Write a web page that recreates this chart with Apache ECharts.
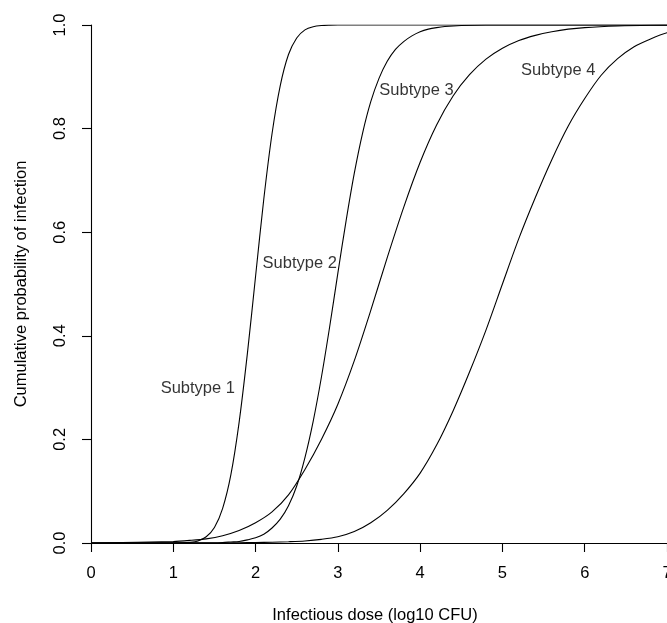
<!DOCTYPE html>
<html>
<head>
<meta charset="utf-8">
<script src="https://cdn.jsdelivr.net/npm/echarts@6/dist/echarts.min.js"></script>
<style>
  html, body { margin: 0; padding: 0; background: #fff; }
  #main { width: 667px; height: 623px; }
</style>
</head>
<body>
<div id="main"></div>
<script>
// cumulative probability curves as [log10 dose, P]
var subtype1 = [[0, 0], [1.0, 0.0001], [1.1, 0.0003], [1.2, 0.0012], [1.3, 0.004], [1.4, 0.012],
  [1.5, 0.03], [1.6, 0.067], [1.7, 0.132], [1.8, 0.233], [1.9, 0.365], [2.0, 0.515],
  [2.1, 0.664], [2.2, 0.79], [2.3, 0.883], [2.4, 0.943], [2.5, 0.975], [2.6, 0.9906],
  [2.7, 0.9968], [2.8, 0.9991], [2.9, 0.9998], [3.0, 1], [7.2, 1]];
var subtype2 = [[0, 0], [1.5, 0.0005], [1.6, 0.001], [1.7, 0.002], [1.8, 0.003], [1.9, 0.006],
  [2.0, 0.01], [2.1, 0.017], [2.2, 0.029], [2.3, 0.046], [2.4, 0.072], [2.5, 0.11],
  [2.6, 0.165], [2.7, 0.235], [2.8, 0.32], [2.9, 0.417], [3.0, 0.521], [3.1, 0.622],
  [3.2, 0.714], [3.3, 0.791], [3.4, 0.852], [3.5, 0.897], [3.6, 0.93], [3.7, 0.953],
  [3.8, 0.968], [3.9, 0.979], [4.0, 0.987], [4.1, 0.992], [4.2, 0.995], [4.3, 0.997],
  [4.5, 0.999], [4.8, 1], [7.2, 1]];
var subtype3 = [[0, 0], [1.0, 0.003], [1.2, 0.005], [1.4, 0.008], [1.6, 0.014], [1.8, 0.024],
  [2.0, 0.039], [2.2, 0.06], [2.4, 0.093], [2.6, 0.142], [2.8, 0.2], [3.0, 0.268],
  [3.2, 0.352], [3.4, 0.449], [3.6, 0.551], [3.8, 0.648], [4.0, 0.735], [4.2, 0.807],
  [4.4, 0.863], [4.6, 0.904], [4.8, 0.934], [5.0, 0.955], [5.2, 0.97], [5.4, 0.98],
  [5.6, 0.987], [5.8, 0.992], [6.0, 0.995], [6.4, 0.998], [6.8, 0.9995], [7.2, 1]];
var subtype4 = [[0, 0], [1.6, 0], [1.8, 0.0005], [2.0, 0.001], [2.2, 0.0015], [2.4, 0.0025],
  [2.6, 0.004], [2.8, 0.007], [3.0, 0.012], [3.2, 0.022], [3.4, 0.039], [3.6, 0.063],
  [3.8, 0.095], [4.0, 0.135], [4.2, 0.189], [4.4, 0.255], [4.6, 0.33], [4.8, 0.411],
  [5.0, 0.5], [5.2, 0.588], [5.4, 0.667], [5.6, 0.74], [5.8, 0.805], [6.0, 0.858],
  [6.2, 0.903], [6.4, 0.935], [6.6, 0.958], [6.8, 0.973], [7.0, 0.985], [7.2, 0.991]];

var curveNames = ['Subtype 1', 'Subtype 2', 'Subtype 3', 'Subtype 4'];
// where each curve's name is written, in data units
var labelPos = [[1.298, 0.299], [2.536, 0.539], [3.955, 0.873], [5.678, 0.913]];

var font = 'Liberation Sans, Arial, Helvetica, sans-serif';
var fs = 16.5;
var ink = '#000';

var curves = [subtype1, subtype2, subtype3, subtype4];
var series = curves.map(function (d, i) {
  return {
    name: curveNames[i],
    type: 'line',
    data: d,
    showSymbol: false,
    smooth: 0.3,
    lineStyle: { color: '#000', width: 1.1 },
    silent: true
  };
});
series.push({
  type: 'scatter',
  symbolSize: 0,
  silent: true,
  data: labelPos.map(function (p, i) { return { name: curveNames[i], value: p }; }),
  label: {
    show: true,
    position: 'inside',
    formatter: '{b}',
    color: ink,
    fontFamily: font,
    fontSize: fs
  }
});

var chart = echarts.init(document.getElementById('main'), null, { renderer: 'canvas' });
chart.setOption({
  animation: false,
  backgroundColor: '#fff',
  grid: { left: 91, top: 25, right: 0, height: 518, containLabel: false, outerBoundsMode: 'none' },
  xAxis: [{
    type: 'value',
    min: 0, max: 7, interval: 1,
    name: 'Infectious dose (log10 CFU)',
    nameLocation: 'middle',
    nameGap: 64,
    nameTextStyle: { color: ink, fontFamily: font, fontSize: fs, padding: [0, 8, 0, 0] },
    axisLine: { show: true, onZero: false, lineStyle: { color: '#000', width: 1.1 } },
    axisTick: { show: true, inside: false, length: 9, lineStyle: { color: '#000', width: 1.1 } },
    axisLabel: { color: ink, fontFamily: font, fontSize: fs, margin: 22, showMaxLabel: true },
    splitLine: { show: false }
  }, {
    type: 'value',
    position: 'top',
    min: 0, max: 7,
    axisLine: { show: true, lineStyle: { color: '#000', width: 1.1 } },
    axisTick: { show: false },
    axisLabel: { show: false },
    splitLine: { show: false }
  }],
  yAxis: {
    type: 'value',
    min: 0, max: 1, interval: 0.2,
    name: 'Cumulative probability of infection',
    nameLocation: 'middle',
    nameGap: 61,
    nameTextStyle: { color: ink, fontFamily: font, fontSize: fs },
    axisLine: { show: true, onZero: false, lineStyle: { color: '#000', width: 1.1 } },
    axisTick: { show: true, inside: false, length: 9, lineStyle: { color: '#000', width: 1.1 } },
    axisLabel: {
      color: ink, fontFamily: font, fontSize: fs, margin: 22, rotate: 90,
      formatter: function (v) { return v.toFixed(1); }
    },
    splitLine: { show: false }
  },
  series: series
});
</script>
</body>
</html>
